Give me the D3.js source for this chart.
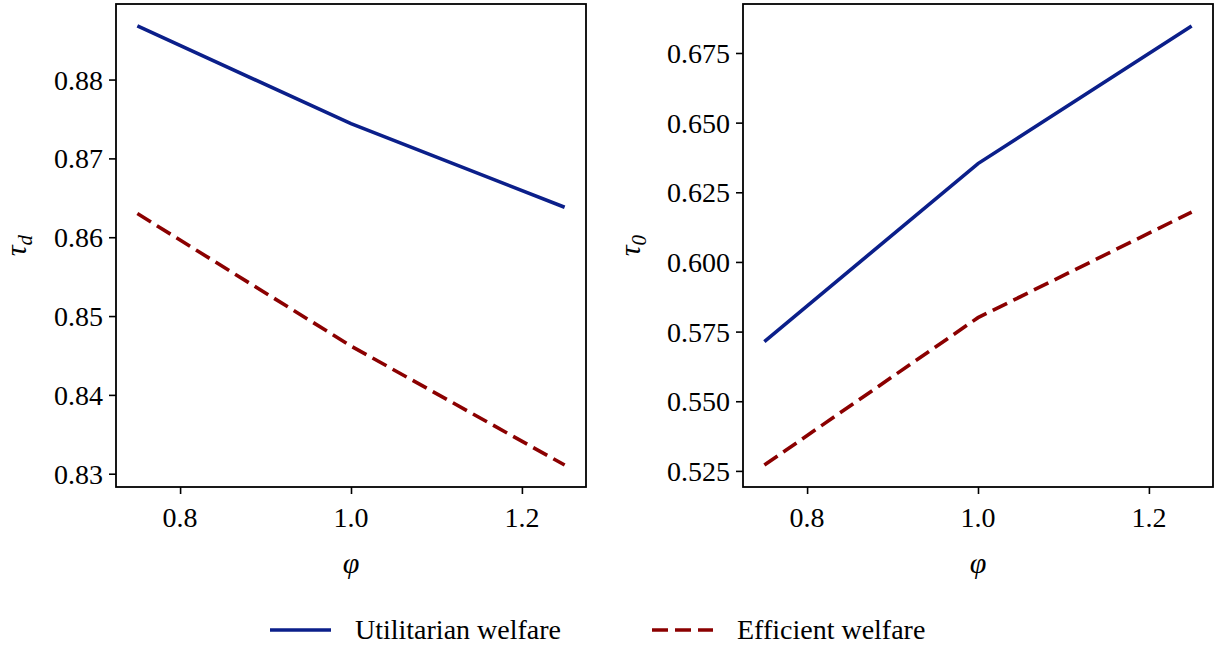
<!DOCTYPE html>
<html><head><meta charset="utf-8">
<script src="https://cdn.jsdelivr.net/npm/d3@7"></script>
</head><body style="margin:0;background:#fff"><svg id="c" width="1222" height="648"></svg>
<script>
const phi = [0.75, 1.0, 1.25];
const tauDUtil = [0.8868, 0.8744, 0.8638];
const tauDEff = [0.8630, 0.8462, 0.8311];
const tau0Util = [0.5714, 0.6353, 0.6847];
const tau0Eff = [0.5271, 0.5800, 0.6179];
const xTicks = [0.8, 1.0, 1.2];
const leftYTicks = [0.83, 0.84, 0.85, 0.86, 0.87, 0.88];
const rightYTicks = [0.525, 0.55, 0.575, 0.6, 0.625, 0.65, 0.675];
const seriesNames = ["Utilitarian welfare", "Efficient welfare"];
const colors = ["#0b1f8a", "#8b0000"];

const FONT = '"Liberation Serif", monospace';
const svg = d3.select("#c");
const FS = 28;
const LW = 3.6;
const DASH = "16,7";

function panel(x0, x1, yTop, yBot, uVals, eVals, yTicks, yFmt, ylabel, ylabX) {
  const pad = (d3.max(phi) - d3.min(phi)) * 0.05;
  const x = d3.scaleLinear().domain([d3.min(phi) - pad, d3.max(phi) + pad]).range([x0, x1]);
  const all = uVals.concat(eVals);
  const lo = d3.min(all), hi = d3.max(all), m = (hi - lo) * 0.05;
  const y = d3.scaleLinear().domain([lo - m, hi + m]).range([yBot, yTop]);
  const line = d3.line().x((d, i) => x(phi[i])).y(d => y(d));
  svg.append("path").attr("d", line(uVals)).attr("fill", "none").attr("stroke", colors[0]).attr("stroke-width", LW);
  svg.append("path").attr("d", line(eVals)).attr("fill", "none").attr("stroke", colors[1]).attr("stroke-width", LW).attr("stroke-dasharray", DASH);
  // ticks via axis generators, labels as direct svg texts
  const xa = svg.append("g").attr("transform", `translate(0,${yBot})`)
    .call(d3.axisBottom(x).tickValues(xTicks).tickFormat("").tickSize(7));
  const ya = svg.append("g").attr("transform", `translate(${x0},0)`)
    .call(d3.axisLeft(y).tickValues(yTicks).tickFormat("").tickSize(7));
  [xa, ya].forEach(a => {
    a.select(".domain").remove();
    a.selectAll("text").remove();
    a.selectAll("line").attr("stroke", "#000").attr("stroke-width", 1.6);
  });
  const fx = d3.format(".1f");
  xTicks.forEach(t => {
    svg.append("text").attr("x", x(t)).attr("y", yBot + 40).attr("text-anchor", "middle")
      .attr("font-size", FS).style("font-family", FONT).text(fx(t));
  });
  yTicks.forEach(t => {
    svg.append("text").attr("x", x0 - 13).attr("y", y(t) + 10).attr("text-anchor", "end")
      .attr("font-size", FS).style("font-family", FONT).text(yFmt(t));
  });
  svg.append("rect").attr("x", x0).attr("y", yTop).attr("width", x1 - x0).attr("height", yBot - yTop)
    .attr("fill", "none").attr("stroke", "#000").attr("stroke-width", 1.8);
  svg.append("text").attr("x", (x0 + x1) / 2).attr("y", 573).attr("text-anchor", "middle")
    .attr("font-size", FS + 2).attr("font-style", "italic").style("font-family", FONT).text("φ");
  const yl = svg.append("text").attr("transform", `translate(${ylabX},${(yTop + yBot) / 2}) rotate(-90)`)
    .attr("font-size", FS + 2).attr("font-style", "italic").style("font-family", FONT)
    .attr("text-anchor", "middle");
  yl.append("tspan").text("τ");
  yl.append("tspan").attr("font-size", FS - 7).attr("dy", 6).text(ylabel);
}

panel(116, 586, 4, 487, tauDUtil, tauDEff, leftYTicks, d3.format(".2f"), "d", 26);
panel(743, 1213, 4, 487, tau0Util, tau0Eff, rightYTicks, d3.format(".3f"), "0", 640);

// legend
const legItems = [{x: 270, name: seriesNames[0], c: colors[0], dash: null}, {x: 652, name: seriesNames[1], c: colors[1], dash: DASH}];
legItems.forEach(it => {
  svg.append("line").attr("x1", it.x).attr("x2", it.x + 61).attr("y1", 630).attr("y2", 630)
    .attr("stroke", it.c).attr("stroke-width", LW).attr("stroke-dasharray", it.dash);
  svg.append("text").attr("x", it.x + 85).attr("y", 639)
    .attr("font-size", FS).style("font-family", FONT).text(it.name);
});
</script></body></html>
